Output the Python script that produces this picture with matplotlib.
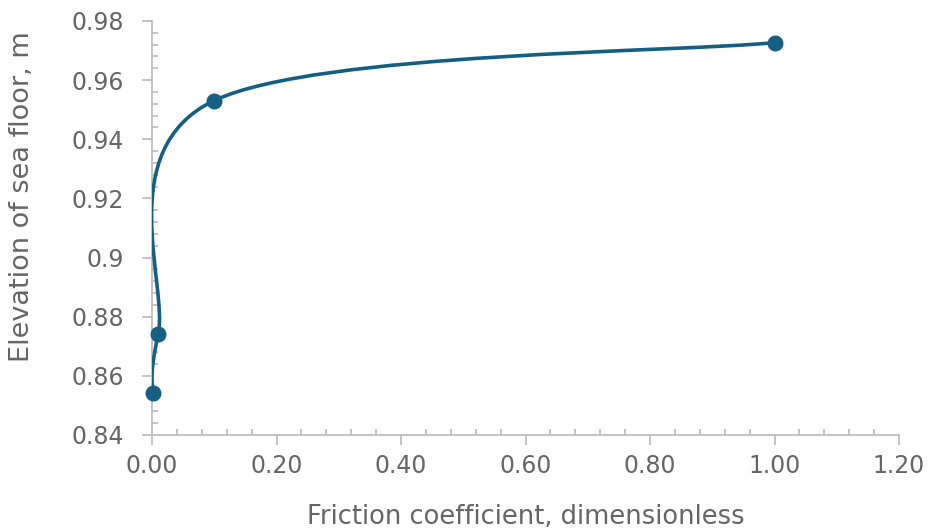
import matplotlib
matplotlib.use("Agg")
import matplotlib.pyplot as plt
from matplotlib.path import Path
from matplotlib.patches import PathPatch
from matplotlib.ticker import MultipleLocator, FormatStrFormatter, FuncFormatter
import numpy as np

plt.rcParams['font.family'] = ['DejaVu Sans']

# Data
friction = [0.001, 0.01, 0.1, 1.0]
elevation = [0.8543, 0.8742, 0.9531, 0.9727]

x_label = "Friction coefficient, dimensionless"
y_label = "Elevation of sea floor, m"

COLOR = "#156082"
GRAY_TXT = "#666666"
GRAY_AX = "#BFBFBF"
FS = 17

fig = plt.figure(figsize=(9.3, 5.31), dpi=100)
ax = fig.add_axes([152/930, 1-435/531, (899-152)/930, (435-21)/531])

# Excel-like smoothed line (Catmull-Rom Bezier)
pts = np.column_stack([friction, elevation])
n = len(pts)
verts = [tuple(pts[0])]
codes = [Path.MOVETO]
for i in range(n - 1):
    p0 = pts[i - 1] if i > 0 else pts[i]
    p1 = pts[i]
    p2 = pts[i + 1]
    p3 = pts[i + 2] if i + 2 < n else pts[i + 1]
    c1 = p1 + (p2 - p0) / 6.0
    c2 = p2 - (p3 - p1) / 6.0
    verts += [tuple(c1), tuple(c2), tuple(p2)]
    codes += [Path.CURVE4] * 3
patch = PathPatch(Path(verts, codes), facecolor='none', edgecolor=COLOR,
                  lw=2.6, capstyle='round', joinstyle='round', zorder=3)
ax.add_patch(patch)
ax.plot(friction, elevation, linestyle='none', marker='o', markersize=10.5,
        color=COLOR, zorder=4, clip_on=False)

ax.set_xlim(0, 1.2)
ax.set_ylim(0.84, 0.98)
ax.xaxis.set_major_locator(MultipleLocator(0.2))
ax.xaxis.set_minor_locator(MultipleLocator(0.04))
ax.yaxis.set_major_locator(MultipleLocator(0.02))
ax.yaxis.set_minor_locator(MultipleLocator(0.004))
ax.xaxis.set_major_formatter(FormatStrFormatter('%.2f'))

def yfmt(v, pos):
    s = f"{v:.2f}".rstrip('0').rstrip('.')
    return s
ax.yaxis.set_major_formatter(FuncFormatter(yfmt))

for s in ['top', 'right']:
    ax.spines[s].set_visible(False)
for s in ['left', 'bottom']:
    ax.spines[s].set_color(GRAY_AX)
    ax.spines[s].set_linewidth(1.3)

ax.tick_params(which='major', direction='out', length=7, width=1.3, color=GRAY_AX,
               labelsize=FS, labelcolor=GRAY_TXT)
ax.tick_params(which='minor', direction='in', length=4, width=1.3, color=GRAY_AX)
ax.tick_params(axis='y', which='major', pad=13)
ax.tick_params(axis='x', which='major', pad=7)

ax.set_xlabel(x_label, fontsize=18.5, color=GRAY_TXT)
ax.set_ylabel(y_label, fontsize=19.5, color=GRAY_TXT)
ax.xaxis.label.set_verticalalignment('center')
ax.yaxis.label.set_verticalalignment('center')
ax.xaxis.set_label_coords((526 - 152) / 747, (435 - 517) / 414)
ax.yaxis.set_label_coords((22 - 152) / 747, (435 - 197) / 414)

fig.savefig("out.png", dpi=100)
